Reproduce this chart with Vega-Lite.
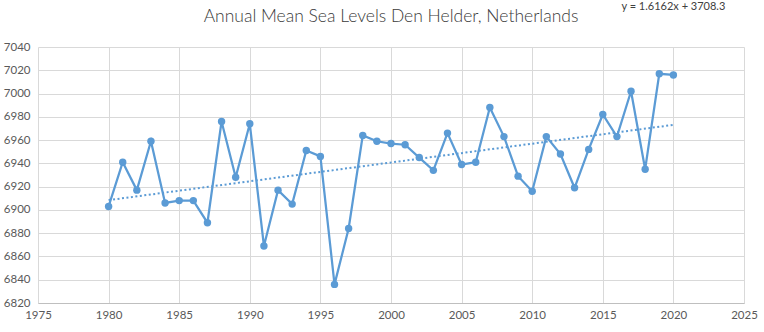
{
  "$schema": "https://vega.github.io/schema/vega-lite/v6.json",
  "width": 706,
  "height": 256,
  "autosize": "none",
  "padding": {"left": 38, "top": 47, "right": 20, "bottom": 29},
  "background": "white",
  "config": {
    "font": "Lato",
    "view": {"stroke": null}
  },
  "title": {
    "text": "Annual Mean Sea Levels Den Helder, Netherlands",
    "font": "Lato",
    "fontSize": 17.5,
    "fontWeight": 300,
    "color": "#3a3a3a",
    "offset": -24,
    "anchor": "middle",
    "frame": "group"
  },
  "data": {
    "values": [
      {"year": 1980, "msl": 6903}, {"year": 1981, "msl": 6941}, {"year": 1982, "msl": 6917},
      {"year": 1983, "msl": 6959}, {"year": 1984, "msl": 6906}, {"year": 1985, "msl": 6908},
      {"year": 1986, "msl": 6908}, {"year": 1987, "msl": 6889}, {"year": 1988, "msl": 6976},
      {"year": 1989, "msl": 6928}, {"year": 1990, "msl": 6974}, {"year": 1991, "msl": 6869},
      {"year": 1992, "msl": 6917}, {"year": 1993, "msl": 6905}, {"year": 1994, "msl": 6951},
      {"year": 1995, "msl": 6946}, {"year": 1996, "msl": 6836}, {"year": 1997, "msl": 6884},
      {"year": 1998, "msl": 6964}, {"year": 1999, "msl": 6959}, {"year": 2000, "msl": 6957},
      {"year": 2001, "msl": 6956}, {"year": 2002, "msl": 6945}, {"year": 2003, "msl": 6934},
      {"year": 2004, "msl": 6966}, {"year": 2005, "msl": 6939}, {"year": 2006, "msl": 6941},
      {"year": 2007, "msl": 6988}, {"year": 2008, "msl": 6963}, {"year": 2009, "msl": 6929},
      {"year": 2010, "msl": 6916}, {"year": 2011, "msl": 6963}, {"year": 2012, "msl": 6948},
      {"year": 2013, "msl": 6919}, {"year": 2014, "msl": 6952}, {"year": 2015, "msl": 6982},
      {"year": 2016, "msl": 6963}, {"year": 2017, "msl": 7002}, {"year": 2018, "msl": 6935},
      {"year": 2019, "msl": 7017}, {"year": 2020, "msl": 7016}
    ]
  },
  "encoding": {
    "x": {
      "field": "year", "type": "quantitative",
      "scale": {"domain": [1975, 2025], "nice": false, "zero": false},
      "axis": {
        "title": null, "values": [1975,1980,1985,1990,1995,2000,2005,2010,2015,2020,2025],
        "format": "d", "labelFont": "Lato", "labelFontSize": 11.5, "labelColor": "#595959", "labelPadding": 6,
        "ticks": false, "domainColor": "#bfbfbf", "gridColor": "#d9d9d9", "labelFlush": false
      }
    },
    "y": {
      "field": "msl", "type": "quantitative",
      "scale": {"domain": [6820, 7040], "nice": false, "zero": false},
      "axis": {
        "title": null, "values": [6820,6840,6860,6880,6900,6920,6940,6960,6980,7000,7020,7040],
        "format": "d", "labelFont": "Lato", "labelFontSize": 11.5, "labelColor": "#595959", "labelPadding": 8,
        "ticks": false, "domain": false, "gridColor": "#d9d9d9"
      }
    }
  },
  "layer": [
    {
      "mark": {"type": "line", "color": "#5B9BD5", "strokeWidth": 2.25, "point": {"filled": true, "size": 55, "color": "#5B9BD5", "opacity": 1}}
    },
    {
      "transform": [{"regression": "msl", "on": "year", "extent": [1980, 2020]}],
      "mark": {"type": "line", "color": "#5B9BD5", "strokeWidth": 2, "strokeDash": [2, 2.5]}
    },
    {
      "data": {"values": [{"label": "y = 1.6162x + 3708.3", "lx": 2020, "ly": 7074}]},
      "mark": {"type": "text", "font": "Lato", "fontSize": 11, "color": "#404040", "clip": false, "align": "center", "baseline": "middle"},
      "encoding": {
        "x": {"field": "lx", "type": "quantitative"},
        "y": {"field": "ly", "type": "quantitative"},
        "text": {"field": "label"}
      }
    }
  ]
}
